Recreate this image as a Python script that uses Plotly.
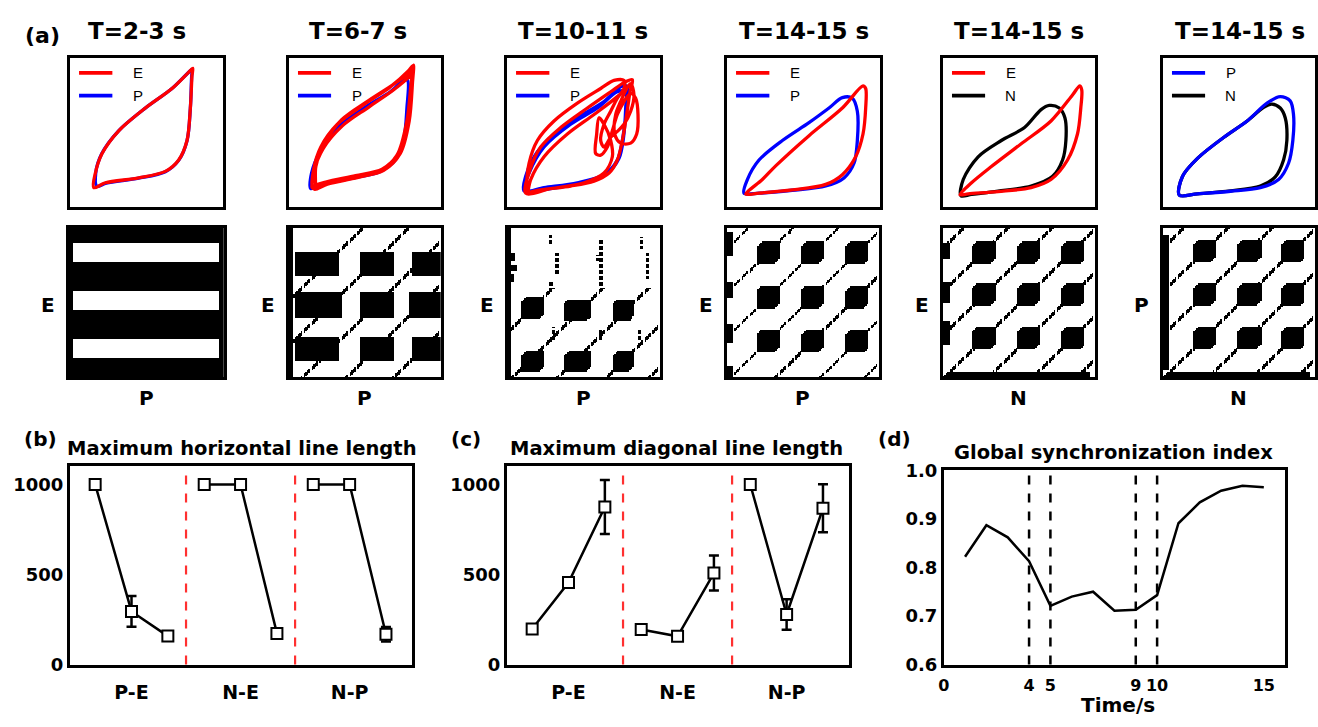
import numpy as np
import plotly.graph_objects as go

W, H = 1318, 727
BOLD = "DejaVu Sans"
PLAIN = "Liberation Sans, Arial"

# ====================== DATA ======================
panel_titles = ["T=2-3 s", "T=6-7 s", "T=10-11 s", "T=14-15 s", "T=14-15 s", "T=14-15 s"]
rp_left_labels = ["E", "E", "E", "E", "E", "P"]
rp_bottom_labels = ["P", "P", "P", "P", "N", "N"]

# phase trajectories (arbitrary units, 0..460)
p1_E_x = [72, 107, 207, 287, 327, 352, 362, 367, 369, 355, 307, 227, 147, 97, 77, 72]
p1_E_y = [60, 75, 90, 110, 145, 205, 305, 405, 427, 413, 365, 305, 235, 165, 105, 60]
p1_P_x = [82, 110, 207, 287, 327, 352, 362, 366, 368, 354, 306, 226, 146, 96, 78, 82]
p1_P_y = [64, 74, 89, 109, 144, 204, 304, 404, 425, 412, 364, 304, 234, 164, 104, 64]

p2_E_x = [72, 107, 197, 277, 327, 357, 369, 375, 362, 307, 227, 147, 97, 75, 72,
          79, 117, 207, 287, 337, 364, 374, 377, 369, 320, 240, 160, 110, 82, 79,
          70, 112, 202, 282, 330, 359, 369, 373, 372, 322, 242, 162, 104, 76, 70]
p2_E_y = [60, 75, 93, 113, 160, 265, 375, 435, 420, 370, 315, 255, 185, 115, 60,
          55, 71, 91, 113, 165, 265, 385, 437, 418, 380, 327, 269, 200, 125, 55,
          62, 77, 97, 117, 163, 260, 365, 430, 412, 365, 308, 250, 180, 110, 62]
p2_P_x = [67, 97, 197, 277, 322, 347, 357, 359, 347, 307, 227, 147, 97, 69, 67]
p2_P_y = [57, 70, 90, 110, 145, 205, 305, 390, 390, 355, 305, 245, 175, 105, 57]

p3_E_x = [57, 102, 192, 262, 307, 332, 347, 360, 370, 377, 352, 312, 242, 162, 102, 70, 57,
          132, 232, 292, 317, 312, 292, 277, 270, 267, 282, 302, 317, 332, 352, 372, 387, 394,
          390, 372, 342, 324, 327, 342, 360, 372, 382, 372, 352, 332, 312, 292, 282, 292, 312,
          332, 352, 352, 322, 282, 212, 142, 92, 67, 60, 62, 72, 112, 182, 262, 332, 377]
p3_E_y = [43, 53, 65, 80, 105, 145, 205, 285, 355, 392, 383, 355, 305, 245, 185, 115, 43,
          57, 75, 105, 155, 205, 255, 275, 225, 165, 160, 185, 235, 285, 325, 350, 335, 285,
          225, 197, 197, 225, 285, 325, 365, 380, 345, 295, 255, 233, 215, 185, 205, 255, 295,
          335, 365, 390, 390, 365, 320, 265, 205, 135, 65, 43, 85, 155, 225, 285, 340, 383]
p3_P_x = [52, 112, 212, 292, 332, 347, 357, 362, 360, 342, 292, 212, 132, 82, 57, 52,
          132, 232, 302, 337, 350, 357, 357, 332, 272, 192, 112, 67, 52]
p3_P_y = [50, 60, 75, 100, 145, 205, 285, 365, 373, 370, 325, 275, 215, 155, 95, 50,
          57, 77, 105, 150, 210, 305, 355, 355, 305, 255, 185, 105, 50]

p4_E_x = [57, 107, 147, 247, 347, 409, 417, 417, 409, 387, 347, 297, 197, 97, 57]
p4_E_y = [40, 85, 127, 220, 305, 373, 365, 305, 225, 155, 100, 70, 53, 43, 40]
p4_P_x = [52, 62, 97, 167, 247, 307, 347, 377, 392, 392, 382, 352, 297, 197, 97, 52]
p4_P_y = [43, 85, 145, 205, 260, 305, 337, 335, 295, 205, 135, 90, 65, 52, 43, 43]

p5_E_x = [52, 87, 147, 237, 327, 392, 414, 420, 417, 407, 377, 327, 267, 167, 77, 52]
p5_E_y = [38, 75, 125, 195, 265, 345, 373, 360, 305, 225, 145, 85, 60, 48, 41, 38]
p5_N_x = [55, 62, 107, 177, 247, 297, 322, 352, 369, 372, 362, 332, 267, 167, 87, 55]
p5_N_y = [35, 85, 155, 205, 245, 300, 313, 305, 275, 205, 145, 95, 65, 49, 39, 35]

p6_P_x = [50, 60, 105, 185, 255, 315, 355, 385, 395, 393, 380, 350, 295, 205, 105, 50]
p6_P_y = [37, 95, 150, 215, 265, 320, 340, 327, 285, 205, 135, 85, 60, 49, 41, 37]
p6_N_x = [50, 60, 105, 185, 255, 305, 330, 355, 370, 375, 365, 340, 295, 205, 105, 50]
p6_N_y = [37, 95, 150, 215, 265, 307, 317, 305, 275, 205, 145, 93, 65, 50, 41, 37]

# recurrence-plot descriptions (normalized 0..1, v measured from top)
rp1_white_rects = [(0.03, 0.965, 0.103, 0.226), (0.03, 0.965, 0.419, 0.548), (0.03, 0.965, 0.742, 0.865)]

rp2_black_rects = [(0.04, 0.333, 0.163, 0.315), (0.474, 0.691, 0.163, 0.315), (0.811, 0.996, 0.163, 0.315),
                   (0.04, 0.354, 0.435, 0.598), (0.474, 0.691, 0.435, 0.598), (0.789, 0.996, 0.435, 0.598),
                   (0.04, 0.333, 0.728, 0.891), (0.474, 0.691, 0.728, 0.891), (0.811, 0.996, 0.728, 0.891),
                   (0.0, 0.025, 0.0, 1.0)]
rp2_diag = [0.49, 0.79, 1.09, 1.38, 1.69]

rp3_blocks = [(0.165, 0.538, 0.074, 0.074), (0.46, 0.549, 0.095, 0.074), (0.76, 0.549, 0.07, 0.074),
              (0.165, 0.89, 0.074, 0.068), (0.46, 0.89, 0.095, 0.068), (0.76, 0.89, 0.07, 0.068)]
rp3_diag = [0.70, 1.03, 1.33, 1.65, 1.93]
rp3_rects = [(0.01, 0.05, 0.17, 0.22), (0.02, 0.06, 0.25, 0.29), (0.01, 0.04, 0.31, 0.36), (0.0, 0.02, 0.0, 1.0)]
rp3_vsegs = [(0.325, 0.17, 0.32), (0.28, 0.05, 0.12), (0.285, 0.35, 0.41), (0.615, 0.08, 0.40),
             (0.595, 0.18, 0.22), (0.92, 0.17, 0.34), (0.88, 0.06, 0.14), (0.30, 0.66, 0.75),
             (0.61, 0.67, 0.75), (0.87, 0.67, 0.75)]

rp4_cols = [0.272, 0.565, 0.859]
rp4_rows = [0.167, 0.461, 0.754]
rp4_diag = [0.146, 0.439, 0.733, 1.026, 1.32, 1.613, 1.907]
rp4_rects = [(0, 0.04, 0.03, 0.185), (0, 0.04, 0.36, 0.47), (0, 0.04, 0.64, 0.77), (0, 0.04, 0.92, 1.0)]

rp5_cols = [0.27, 0.563, 0.857]
rp5_rows = [0.167, 0.446, 0.736]
rp5_diag = [0.14, 0.43, 0.72, 1.01, 1.30, 1.59, 1.88]
rp5_rects = [(0, 0.045, 0.10, 0.21), (0, 0.045, 0.36, 0.50), (0, 0.045, 0.62, 0.78), (0.03, 0.97, 0.965, 1.0)]

rp6_cols = [0.272, 0.57, 0.859]
rp6_rows = [0.156, 0.446, 0.736]
rp6_diag = [0.14, 0.43, 0.72, 1.01, 1.30, 1.59, 1.88]
rp6_rects = [(0, 0.04, 0.05, 0.95), (0.03, 0.97, 0.965, 1.0)]

# (b) maximum horizontal line length
group_labels = ["P-E", "N-E", "N-P"]
group_x = [[1, 2, 3], [4, 5, 6], [7, 8, 9]]
hl_values = [[1000, 295, 158], [1000, 1000, 173], [1000, 1000, 168]]
hl_errors = [[0, 85, 12], [0, 0, 28], [0, 0, 40]]
# (c) maximum diagonal line length
dl_values = [[198, 455, 875], [195, 157, 508], [1000, 278, 868]]
dl_errors = [[0, 8, 150], [0, 0, 97], [0, 85, 133]]
group_dividers = [3.5, 6.5]
# (d) global synchronization index
gsi_time = [1, 2, 3, 4, 5, 6, 7, 8, 9, 10, 11, 12, 13, 14, 15]
gsi_value = [0.822, 0.887, 0.862, 0.813, 0.721, 0.740, 0.750, 0.711, 0.713, 0.743,
             0.891, 0.934, 0.958, 0.968, 0.965]
gsi_marks = [4, 5, 9, 10]

# ====================== LAYOUT ======================
top_boxes = [(64, 218), (284, 437), (503, 657), (724, 878), (941, 1094), (1162, 1315)]
title_cx = [132, 354, 580, 802, 1018, 1240]
rp_boxes = [(63, 219), (284, 437), (504, 657), (724, 877), (941, 1094), (1162, 1315)]

phase_series = [
    [(p1_P_x, p1_P_y, "blue"), (p1_E_x, p1_E_y, "red")],
    [(p2_P_x, p2_P_y, "blue"), (p2_E_x, p2_E_y, "red")],
    [(p3_P_x, p3_P_y, "blue"), (p3_E_x, p3_E_y, "red")],
    [(p4_P_x, p4_P_y, "blue"), (p4_E_x, p4_E_y, "red")],
    [(p5_N_x, p5_N_y, "black"), (p5_E_x, p5_E_y, "red")],
    [(p6_N_x, p6_N_y, "black"), (p6_P_x, p6_P_y, "blue")],
]
legend_items = [[("E", "red"), ("P", "blue")]] * 4 + [[("E", "red"), ("N", "black")], [("P", "blue"), ("N", "black")]]

N = 100
uu = (np.arange(N) + 0.5) / N
U, V = np.meshgrid(uu, uu)
JJ = np.tile(np.arange(N), (N, 1))
II = JJ.T


def build_rp(base=0, blocks=(), rects=(), white_rects=(), diag=(), diag_vmin=0.0, vsegs=()):
    Z = np.full((N, N), float(base))
    for (cx, cy, hx, hy) in blocks:
        dx = (U - cx) / hx
        dy = (V - cy) / hy
        Z[(np.abs(dx) <= 1) & (np.abs(dy) <= 1) & (np.abs(dx + dy) <= 1.55)] = 1
    for (x0, x1, y0, y1) in rects:
        Z[(U >= x0) & (U <= x1) & (V >= y0) & (V <= y1)] = 1
    for (x0, x1, y0, y1) in white_rects:
        Z[(U >= x0) & (U <= x1) & (V >= y0) & (V <= y1)] = 0
    dash = (JJ % 5) != 4
    for s in diag:
        Z[(np.abs(U + V - s) < 0.011) & (V >= diag_vmin) & dash] = 1
    vdash = (II % 4) != 3
    for (x, y0, y1) in vsegs:
        Z[(np.abs(U - x) < 0.011) & (V >= y0) & (V <= y1) & vdash] = 1
    return Z


def grid_blocks(cols, rows, h=0.076):
    return [(c, r, h, h) for c in cols for r in rows]


rp_mats = [
    build_rp(base=1, white_rects=rp1_white_rects),
    build_rp(rects=rp2_black_rects, diag=rp2_diag),
    build_rp(blocks=rp3_blocks, rects=rp3_rects, diag=rp3_diag, diag_vmin=0.40, vsegs=rp3_vsegs),
    build_rp(blocks=grid_blocks(rp4_cols, rp4_rows), rects=rp4_rects, diag=rp4_diag),
    build_rp(blocks=grid_blocks(rp5_cols, rp5_rows), rects=rp5_rects, diag=rp5_diag),
    build_rp(blocks=grid_blocks(rp6_cols, rp6_rows), rects=rp6_rects, diag=rp6_diag),
]

fig = go.Figure()
layout = dict(width=W, height=H, margin=dict(l=0, r=0, t=0, b=0), paper_bgcolor="white",
              plot_bgcolor="white", showlegend=False)
shapes, annotations = [], []


def xdom(p0, p1):
    return [p0 / W, p1 / W]


def ydom(p0, p1):
    return [1 - p1 / H, 1 - p0 / H]


def frame_axis(**kw):
    d = dict(showgrid=False, zeroline=False, showline=True, mirror=True, linecolor="black",
             linewidth=3, ticks="", showticklabels=False)
    d.update(kw)
    return d


counter = [0]


def new_axes(xd, yd, xr, yr, xkw=None, ykw=None):
    counter[0] += 1
    s = "" if counter[0] == 1 else str(counter[0])
    layout["xaxis" + s] = frame_axis(domain=xd, range=xr, anchor="y" + s, **(xkw or {}))
    layout["yaxis" + s] = frame_axis(domain=yd, range=yr, anchor="x" + s, **(ykw or {}))
    return "x" + s, "y" + s


def text(px, py, t, size, family=BOLD, bold=True, xanchor="center"):
    annotations.append(dict(x=px / W, y=1 - py / H, xref="paper", yref="paper", showarrow=False,
                            text=("<b>%s</b>" % t) if bold else t, xanchor=xanchor, yanchor="middle",
                            font=dict(family=family, size=size, color="black")))


# ---- row 1: phase portraits ----
for k in range(6):
    xa, ya = new_axes(xdom(*top_boxes[k]), ydom(48, 202), [0, 460], [0, 460])
    for xs, ys, col in phase_series[k]:
        fig.add_trace(go.Scatter(x=xs, y=ys, mode="lines", xaxis=xa, yaxis=ya,
                                 line=dict(color=col, width=3.3, shape="spline", smoothing=0.9),
                                 hoverinfo="skip"))
    for j, (lab, col) in enumerate(legend_items[k]):
        yy = 413 - 70 * j
        shapes.append(dict(type="line", xref=xa, yref=ya, x0=28, x1=128, y0=yy, y1=yy,
                           line=dict(color=col, width=3.8)))
        annotations.append(dict(x=205, y=yy, xref=xa, yref=ya, showarrow=False, text=lab,
                                xanchor="center", yanchor="middle",
                                font=dict(family=PLAIN, size=15, color="black")))
    text(title_cx[k], 21, panel_titles[k], 23)
text(37, 25, "(a)", 22)

# ---- row 2: recurrence plots ----
for k in range(6):
    xa, ya = new_axes(xdom(*rp_boxes[k]), ydom(223, 377), [0, 1], [1, 0])
    fig.add_trace(go.Heatmap(z=rp_mats[k], x=uu, y=uu, xaxis=xa, yaxis=ya, zmin=0, zmax=1,
                             colorscale=[[0, "white"], [1, "black"]], showscale=False,
                             hoverinfo="skip"))
    x0, x1 = rp_boxes[k]
    text(x0 - 21, 303, rp_left_labels[k], 20)
    text((x0 + x1) / 2, 398, rp_bottom_labels[k], 20)

# ---- row 3: (b) and (c) ----
tickfont = dict(family=BOLD, size=18, color="black", weight="bold")
catfont = dict(family=BOLD, size=19, color="black", weight="bold")
for (bx0, bx1), vals, errs in [((64, 408), hl_values, hl_errors), ((503, 847), dl_values, dl_errors)]:
    xa, ya = new_axes(xdom(bx0, bx1), ydom(469, 673), [0.3, 9.72], [0, 1100],
                      xkw=dict(showticklabels=True, tickvals=[2, 5, 8], ticktext=group_labels,
                               tickfont=catfont, ticks="outside", ticklen=9,
                               tickcolor="rgba(0,0,0,0)", linewidth=2.5),
                      ykw=dict(showticklabels=True, tickvals=[0, 500, 1000], tickfont=tickfont,
                               linewidth=2.5))
    for gx, gv, ge in zip(group_x, vals, errs):
        fig.add_trace(go.Scatter(x=gx, y=gv, xaxis=xa, yaxis=ya, mode="lines+markers",
                                 line=dict(color="black", width=2.5),
                                 marker=dict(symbol="square", size=11, color="white",
                                             line=dict(color="black", width=2)),
                                 error_y=dict(type="data", array=ge, visible=True, thickness=2.5,
                                              width=5, color="black"),
                                 hoverinfo="skip"))
    for d in group_dividers:
        shapes.append(dict(type="line", xref=xa, yref=ya + " domain", x0=d, x1=d, y0=0, y1=1,
                           line=dict(color="#ff3030", width=2.2, dash="dash"), layer="below"))

text(35, 441, "(b)", 20)
text(237, 451, "Maximum horizontal line length", 19.5)
text(462, 441, "(c)", 20)
text(674, 451, "Maximum diagonal line length", 19.5)

# ---- (d) ----
xa, ya = new_axes(xdom(942, 1285), ydom(473, 673), [0, 16], [0.6, 1.0],
                  xkw=dict(showticklabels=True, tickvals=[0, 4, 5, 9, 10, 15],
                           tickfont=dict(family=BOLD, size=16, color="black", weight="bold"),
                           ticks="outside", ticklen=4, tickcolor="rgba(0,0,0,0)", linewidth=2.5),
                  ykw=dict(showticklabels=True, tickvals=[0.6, 0.7, 0.8, 0.9, 1.0],
                           ticktext=["0.6", "0.7", "0.8", "0.9", "1.0"], tickfont=tickfont,
                           linewidth=2.5))
fig.add_trace(go.Scatter(x=gsi_time, y=gsi_value, xaxis=xa, yaxis=ya, mode="lines",
                         line=dict(color="black", width=2.5), hoverinfo="skip"))
for t in gsi_marks:
    shapes.append(dict(type="line", xref=xa, yref=ya + " domain", x0=t, x1=t, y0=0, y1=1,
                       line=dict(color="black", width=2.5, dash="dash")))
text(893, 441, "(d)", 20)
text(1113, 455, "Global synchronization index", 19.5)
text(1117, 715, "Time/s", 20)

layout["shapes"] = shapes
layout["annotations"] = annotations
fig.update_layout(layout)
fig.write_html("out.html")
